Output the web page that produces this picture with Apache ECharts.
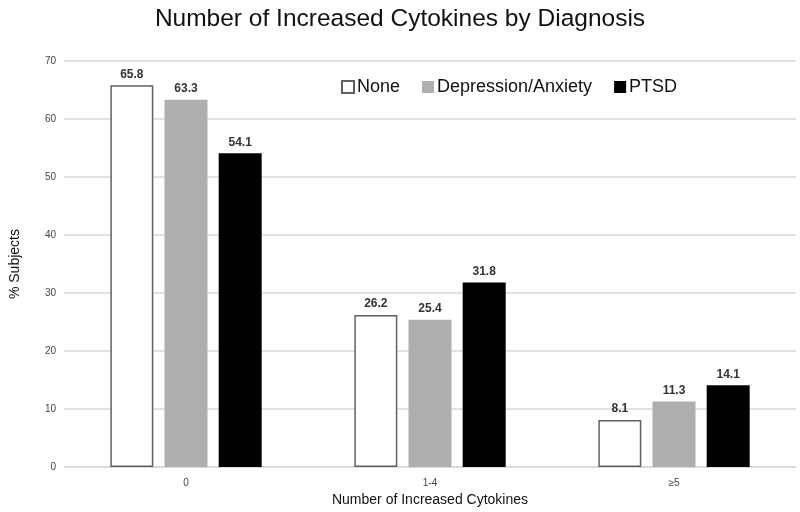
<!DOCTYPE html>
<html><head><meta charset="utf-8">
<script src="https://cdn.jsdelivr.net/npm/echarts@6/dist/echarts.min.js"></script>
<style>html,body{margin:0;padding:0;background:#fff}#c{width:800px;height:512px}</style>
</head><body><div id="c"></div>
<script>
const categories = ['0', '1-4', '≥5'];
const seriesNames = ['None', 'Depression/Anxiety', 'PTSD'];
const noneVals = [65.8, 26.2, 8.1];
const depVals = [63.3, 25.4, 11.3];
const ptsdVals = [54.1, 31.8, 14.1];
const yTicks = [0, 10, 20, 30, 40, 50, 60, 70];

const chart = echarts.init(document.getElementById('c'), null, {renderer: 'canvas'});
const font = 'Liberation Sans, Arial, Helvetica, sans-serif';
const labelCfg = {show: true, position: 'top', distance: 5, fontFamily: font, fontSize: 12, fontWeight: 'bold', color: '#333', formatter: p => p.value.toFixed(1)};
chart.setOption({
  animation: false,
  title: {text: 'Number of Increased Cytokines by Diagnosis', left: 'center', top: 2,
    textStyle: {fontFamily: font, fontSize: 24.5, fontWeight: 'normal', color: '#111'}},
  legend: {left: 336, top: 73, itemWidth: 12, itemHeight: 12, itemGap: 22,
    textStyle: {fontFamily: font, fontSize: 18, color: '#111', padding: [0,0,0,-2]},
    data: seriesNames.map(n => ({name: n, icon: 'rect'}))},
  grid: {left: 63, right: 4, top: 61, bottom: 39, containLabel: false},
  xAxis: {type: 'category', data: categories,
    axisLine: {lineStyle: {color: '#d9d9d9', width: 1.5}}, axisTick: {show: false},
    axisLabel: {fontFamily: font, fontSize: 10, color: '#444', margin: 11},
    name: 'Number of Increased Cytokines', nameLocation: 'middle', nameGap: 25,
    nameTextStyle: {fontFamily: font, fontSize: 14, color: '#111'}},
  yAxis: {type: 'value', min: yTicks[0], max: yTicks[yTicks.length-1], interval: 10,
    axisLine: {show: false}, axisTick: {show: false},
    splitLine: {lineStyle: {color: '#d9d9d9', width: 1.5}},
    axisLabel: {fontFamily: font, fontSize: 10, color: '#444', margin: 8},
    name: '% Subjects', nameLocation: 'middle', nameGap: 42, nameRotate: 90,
    nameTextStyle: {fontFamily: font, fontSize: 14, color: '#111'}},
  series: [
    {name: seriesNames[0], type: 'bar', data: noneVals, barWidth: 43, barGap: '26%',
      itemStyle: {color: '#ffffff', borderColor: '#606060', borderWidth: 1.5}, label: labelCfg},
    {name: seriesNames[1], type: 'bar', data: depVals, barWidth: 43,
      itemStyle: {color: '#afafaf'}, label: labelCfg},
    {name: seriesNames[2], type: 'bar', data: ptsdVals, barWidth: 43,
      itemStyle: {color: '#000000'}, label: labelCfg}
  ]
});
</script></body></html>
